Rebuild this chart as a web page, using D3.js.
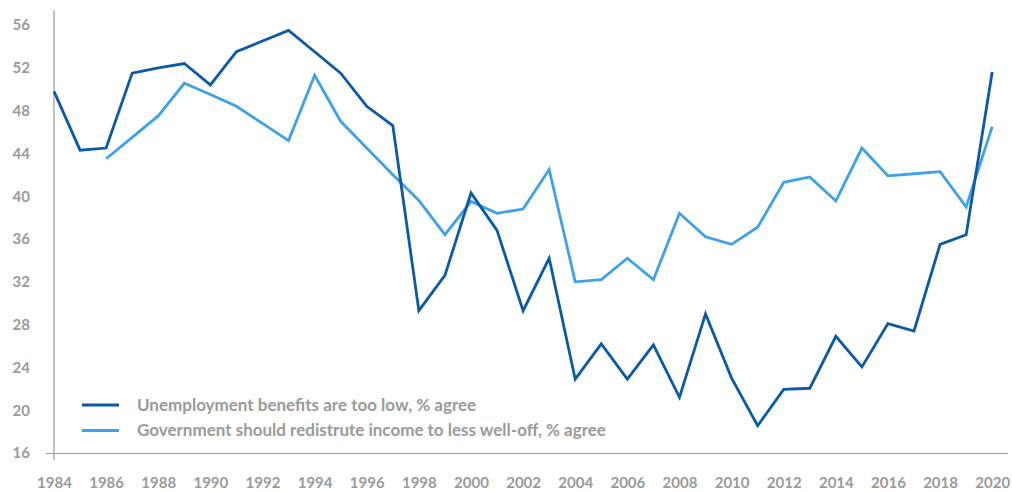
<!DOCTYPE html>
<html>
<head>
<meta charset="utf-8">
<script src="https://cdn.jsdelivr.net/npm/d3@7"></script>
<style>
  html, body { margin: 0; padding: 0; background: #ffffff; }
  svg { display: block; font-family: Lato, "Open Sans", sans-serif; }
</style>
</head>
<body>
<svg id="chart" width="1012" height="492"></svg>
<script>
const years = d3.range(1984, 2021);
const unemployment = [49.8, 44.3, 44.5, 51.5, 52.0, 52.4, 50.4, 53.5, 54.5, 55.5, 53.5, 51.5, 48.4, 46.6, 29.3, 32.6, 40.3, 36.8, 29.3, 34.2, 22.9, 26.2, 22.9, 26.1, 21.2, 29.0, 23.0, 18.55, 21.95, 22.05, 26.9, 24.05, 28.1, 27.4, 35.5, 36.4, 51.6];
const redistribute = [null, null, 43.5, 45.5, 47.5, 50.55, 49.5, 48.4, 46.8, 45.2, 51.3, 47.0, 44.5, 42.0, 39.6, 36.4, 39.5, 38.4, 38.8, 42.5, 32.0, 32.2, 34.2, 32.2, 38.4, 36.2, 35.5, 37.1, 41.3, 41.8, 39.55, 44.5, 41.9, 42.1, 42.3, 39.0, 46.5];
const yTicks = [16, 20, 24, 28, 32, 36, 40, 44, 48, 52, 56];
const xTicks = d3.range(1984, 2021, 2);
const seriesNames = ["Unemployment benefits are too low, % agree", "Government should redistrute income to less well-off, % agree"];
const seriesColors = ["#0b5aa6", "#3fa1e8"];

const svg = d3.select("#chart");
const x = d3.scaleLinear().domain([1984, 2020]).range([54, 992.2]);
const y = d3.scaleLinear().domain([16, 56]).range([453, 25]);
const grey = "#9a9a9a";

// axis lines
svg.append("line").attr("x1", 54).attr("x2", 54).attr("y1", 10).attr("y2", 460)
  .attr("stroke", grey).attr("stroke-width", 1.2);
svg.append("line").attr("x1", 46).attr("x2", 1008).attr("y1", 453.5).attr("y2", 453.5)
  .attr("stroke", grey).attr("stroke-width", 1.2);

// y tick labels
const yAxis = d3.axisLeft(y).tickValues(yTicks).tickSize(0).tickPadding(24).tickFormat(d3.format("d"));
const gy = svg.append("g").attr("transform", "translate(54,0)").call(yAxis);
gy.select(".domain").remove();
gy.selectAll("text").attr("fill", grey).attr("font-size", 15).attr("font-weight", 700)
  .attr("font-family", "Lato, sans-serif");

// x tick labels
const xAxis = d3.axisBottom(x).tickValues(xTicks).tickSize(0).tickPadding(24).tickFormat(d3.format("d"));
const gx = svg.append("g").attr("transform", "translate(0,453)").call(xAxis);
gx.select(".domain").remove();
gx.selectAll("text").attr("fill", grey).attr("font-size", 15).attr("font-weight", 700)
  .attr("font-family", "Lato, sans-serif");

// lines
const line = d3.line()
  .defined(d => d.v !== null)
  .x(d => x(d.year))
  .y(d => y(d.v));

[redistribute, unemployment].forEach((arr, i) => {
  const idx = i === 0 ? 1 : 0;
  const data = years.map((yr, j) => ({ year: yr, v: arr[j] }));
  svg.append("path").datum(data)
    .attr("fill", "none")
    .attr("stroke", seriesColors[idx])
    .attr("stroke-width", 2.8)
    .attr("stroke-linejoin", "miter")
    .attr("d", line);
});

// legend
const legend = svg.append("g");
seriesNames.forEach((name, i) => {
  const ly = 405 + i * 25.5;
  legend.append("line").attr("x1", 82).attr("x2", 119).attr("y1", ly).attr("y2", ly)
    .attr("stroke", seriesColors[i]).attr("stroke-width", 3);
  legend.append("text").attr("x", 137).attr("y", ly).attr("dy", "0.35em")
    .attr("fill", grey).attr("font-size", 17).attr("font-weight", 700)
    .attr("font-family", "Lato, sans-serif")
    .text(name);
});
</script>
</body>
</html>
